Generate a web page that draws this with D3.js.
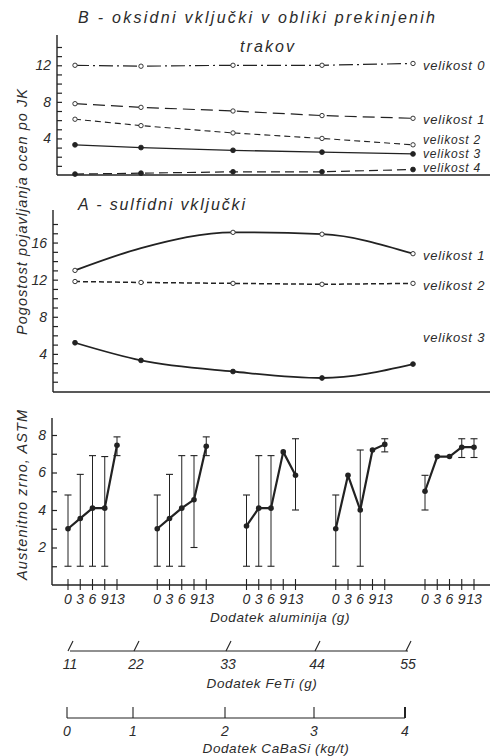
<!DOCTYPE html>
<html lang="sl">
<head>
<meta charset="utf-8">
<title>Vključki in austenitno zrno</title>
<style>
  body { margin: 0; background: #fff; }
  svg text { font-family: "Liberation Sans", "DejaVu Sans", sans-serif; font-style: italic; fill: #2b2b2b; }
</style>
</head>
<body>
<div id="chart"></div>
<script src="https://cdn.jsdelivr.net/npm/d3@7"></script>
<script>

// ---- data ----
var groups = [0, 1, 2, 3, 4];
var feTiTicks = [11, 22, 33, 44, 55];
var caBaSiTicks = [0, 1, 2, 3, 4];
var alLabels = ["0", "3", "6", "9", "13"];

// B - oksidni vkljucki (pogostost po JK)
var bVel0 = [12.0, 11.9, 12.0, 12.0, 12.2];
var bVel1 = [7.8, 7.4, 7.0, 6.5, 6.2];
var bVel2 = [6.1, 5.4, 4.6, 4.0, 3.3];
var bVel3 = [3.3, 3.0, 2.7, 2.5, 2.3];
var bVel4 = [0.1, 0.2, 0.35, 0.35, 0.6];

// A - sulfidni vkljucki
var aVel1 = [13.0, 15.4, 17.1, 16.9, 14.8];
var aVel2 = [11.8, 11.7, 11.6, 11.5, 11.6];
var aVel3 = [5.2, 3.3, 2.1, 1.4, 2.9];

// austenitno zrno ASTM, one row per group, one value per Al addition
var grainMean = [
  [3.0, 3.55, 4.1, 4.1, 7.45],
  [3.0, 3.55, 4.1, 4.55, 7.4],
  [3.15, 4.1, 4.1, 7.1, 5.85],
  [3.0, 5.85, 4.0, 7.2, 7.5],
  [5.0, 6.85, 6.85, 7.35, 7.35]
];
var grainLow = [
  [1.0, 1.0, 1.0, 1.0, 6.9],
  [1.0, 1.0, 1.0, 2.0, 6.9],
  [1.0, 1.0, 1.0, null, 4.0],
  [1.0, null, 1.0, null, 7.1],
  [4.0, null, null, 6.8, 6.8]
];
var grainHigh = [
  [4.8, 5.9, 6.9, 6.85, 7.9],
  [4.8, 5.9, 6.9, 6.9, 7.9],
  [4.8, 6.9, 6.9, null, 7.8],
  [4.8, null, 7.2, null, 7.8],
  [5.85, null, null, 7.8, 7.8]
];

// ---- setup ----
var W = 495, H = 756;
var svg = d3.select("#chart").append("svg")
  .attr("width", W).attr("height", H);

var ink = "#222";

// experiment positions are not evenly drawn in the original, polylinear scale
var xg = d3.scaleLinear().domain(groups).range([75, 141, 233, 322, 413]);

function yAxisInward(scale, x, top, bottom, fmt) {
  var g = svg.append("g").attr("transform", "translate(" + x + ",0)");
  g.call(d3.axisLeft(scale)
    .tickValues(d3.range(scale.domain()[0] + 1, scale.domain()[1] + 1))
    .tickSizeInner(-5).tickSizeOuter(0).tickPadding(6)
    .tickFormat(fmt));
  g.select(".domain").remove();
  g.selectAll("line").attr("stroke", ink).attr("stroke-width", 1.2);
  g.selectAll("text").attr("font-size", 14).style("font-family", '"Liberation Sans", sans-serif').style("font-style", "italic").attr("fill", "#2b2b2b");
  svg.append("line").attr("x1", x).attr("x2", x).attr("y1", top).attr("y2", bottom)
    .attr("stroke", ink).attr("stroke-width", 1.4);
}

function drawSeries(yScale, vals, style) {
  var pts = vals.map(function (v, i) { return [xg(i), yScale(v)]; });
  svg.append("path")
    .datum(pts)
    .attr("fill", "none")
    .attr("stroke", ink)
    .attr("stroke-width", style.width)
    .attr("stroke-dasharray", style.dash)
    .attr("d", d3.line().curve(style.curve || d3.curveLinear));
  var marked = pts.filter(function (d, i) { return !(style.skip && style.skip.indexOf(i) >= 0); });
  svg.append("g").selectAll("circle")
    .data(marked).enter()
    .append("circle")
    .attr("cx", function (d) { return d[0]; })
    .attr("cy", function (d) { return d[1]; })
    .attr("r", style.filled ? 2.4 : 2.2)
    .attr("fill", style.filled ? ink : "#fff")
    .attr("stroke", ink)
    .attr("stroke-width", 0.9);
}

function label(x, y, txt, size) {
  svg.append("text").attr("x", x).attr("y", y)
    .attr("font-size", size || 13)
    .attr("letter-spacing", 0.8)
    .text(txt);
}

// ---- panel B ----
var yB = d3.scaleLinear().domain([0, 14]).range([175, 47]);
yAxisInward(yB, 57, 35, 175, function (d) { return d % 4 === 0 ? d : ""; });
svg.append("line").attr("x1", 57).attr("x2", 490).attr("y1", 175).attr("y2", 175)
  .attr("stroke", ink).attr("stroke-width", 1.4);

drawSeries(yB, bVel0, { width: 1.2, dash: "14,4,2,4", filled: false });
drawSeries(yB, bVel1, { width: 1.2, dash: "12,6", filled: false });
drawSeries(yB, bVel2, { width: 1.1, dash: "6,4", filled: false });
drawSeries(yB, bVel3, { width: 1.3, dash: null, filled: true });
drawSeries(yB, bVel4, { width: 1.2, dash: "9,5", filled: true });

label(423, 70, "velikost 0");
label(423, 124, "velikost 1");
label(423, 144, "velikost 2", 12);
label(423, 158, "velikost 3", 12);
label(423, 172, "velikost 4", 12);

svg.append("text").attr("x", 78).attr("y", 23).attr("font-size", 16)
  .attr("textLength", 357).attr("lengthAdjust", "spacing")
  .text("B - oksidni vključki v obliki prekinjenih");
svg.append("text").attr("x", 240).attr("y", 52).attr("font-size", 16)
  .attr("textLength", 54).attr("lengthAdjust", "spacing")
  .text("trakov");

// ---- panel A ----
var yA = d3.scaleLinear().domain([0, 18]).range([391, 224]);
yAxisInward(yA, 53, 210, 392, function (d) { return d % 4 === 0 ? d : ""; });
svg.append("line").attr("x1", 53).attr("x2", 490).attr("y1", 392).attr("y2", 392)
  .attr("stroke", ink).attr("stroke-width", 1.4);

drawSeries(yA, aVel1, { width: 1.8, dash: null, filled: false, curve: d3.curveMonotoneX, skip: [1] });
drawSeries(yA, aVel2, { width: 1.5, dash: "5,3", filled: false });
drawSeries(yA, aVel3, { width: 1.8, dash: null, filled: true, curve: d3.curveMonotoneX });

label(423, 260, "velikost 1");
label(423, 290, "velikost 2");
label(423, 342, "velikost 3");

svg.append("text").attr("x", 78).attr("y", 210).attr("font-size", 16)
  .attr("textLength", 167).attr("lengthAdjust", "spacing")
  .text("A - sulfidni vključki");

svg.append("text")
  .attr("transform", "translate(27,212) rotate(-90)")
  .attr("text-anchor", "middle")
  .attr("font-size", 14.5)
  .attr("textLength", 246).attr("lengthAdjust", "spacing")
  .text("Pogostost pojavljanja ocen po JK");

// ---- austenite grain panel ----
var yG = d3.scaleLinear().domain([0, 8]).range([585, 435]);
var groupX = d3.scalePoint().domain(groups).range([68, 425]);
var alX = d3.scalePoint().domain(d3.range(alLabels.length)).range([0, 49]);

yAxisInward(yG, 52, 418, 585, function (d) { return d % 2 === 0 ? d : ""; });
svg.append("line").attr("x1", 52).attr("x2", 490).attr("y1", 585).attr("y2", 585)
  .attr("stroke", ink).attr("stroke-width", 1.4);

groups.forEach(function (g) {
  var px = function (i) { return groupX(g) + alX(i); };

  // ticks and Al labels
  alLabels.forEach(function (t, i) {
    svg.append("line").attr("x1", px(i)).attr("x2", px(i))
      .attr("y1", 579).attr("y2", 590)
      .attr("stroke", ink).attr("stroke-width", 1.1);
    svg.append("text").attr("x", px(i)).attr("y", 604)
      .attr("text-anchor", "middle").attr("font-size", 14)
      .text(t);
  });

  // error bars
  grainMean[g].forEach(function (m, i) {
    var lo = grainLow[g][i], hi = grainHigh[g][i];
    if (lo === null) return;
    var x = px(i);
    svg.append("line").attr("x1", x).attr("x2", x)
      .attr("y1", yG(lo)).attr("y2", yG(hi))
      .attr("stroke", ink).attr("stroke-width", 1);
    [lo, hi].forEach(function (v) {
      svg.append("line").attr("x1", x - 3.5).attr("x2", x + 3.5)
        .attr("y1", yG(v)).attr("y2", yG(v))
        .attr("stroke", ink).attr("stroke-width", 1.1);
    });
  });

  var pts = grainMean[g].map(function (m, i) { return [px(i), yG(m)]; });
  svg.append("path").datum(pts)
    .attr("fill", "none").attr("stroke", ink).attr("stroke-width", 2.2)
    .attr("stroke-linejoin", "round")
    .attr("d", d3.line());
  svg.append("g").selectAll("circle")
    .data(pts).enter()
    .append("circle")
    .attr("cx", function (d) { return d[0]; })
    .attr("cy", function (d) { return d[1]; })
    .attr("r", 2.8).attr("fill", ink);
});

svg.append("text")
  .attr("transform", "translate(27,495) rotate(-90)")
  .attr("text-anchor", "middle")
  .attr("font-size", 14.5)
  .attr("textLength", 170).attr("lengthAdjust", "spacing")
  .text("Austenitno zrno, ASTM");

svg.append("text").attr("x", 280).attr("y", 622).attr("text-anchor", "middle")
  .attr("font-size", 13.5).attr("letter-spacing", 0.6).text("Dodatek aluminija (g)");

// ---- FeTi axis ----
var xFeTi = d3.scaleLinear().domain(feTiTicks).range(groups.map(function (g) { return xg(g) - 5; }));
svg.append("line").attr("x1", xFeTi(11)).attr("x2", xFeTi(55)).attr("y1", 651).attr("y2", 651)
  .attr("stroke", ink).attr("stroke-width", 1.2);
feTiTicks.forEach(function (t) {
  svg.append("line").attr("x1", xFeTi(t) - 2).attr("x2", xFeTi(t) + 3)
    .attr("y1", 651).attr("y2", 641)
    .attr("stroke", ink).attr("stroke-width", 1.1);
  svg.append("text").attr("x", xFeTi(t)).attr("y", 669)
    .attr("text-anchor", "middle").attr("font-size", 14).text(t);
});
svg.append("text").attr("x", 262).attr("y", 688).attr("text-anchor", "middle")
  .attr("font-size", 13.5).attr("letter-spacing", 0.6).text("Dodatek FeTi (g)");

// ---- CaBaSi axis ----
var xCa = d3.scaleLinear().domain(caBaSiTicks).range(groups.map(function (g) { return xg(g) - 8; }));
svg.append("line").attr("x1", xCa(0)).attr("x2", xCa(4)).attr("y1", 718).attr("y2", 718)
  .attr("stroke", ink).attr("stroke-width", 1.2);
caBaSiTicks.forEach(function (t) {
  svg.append("line").attr("x1", xCa(t)).attr("x2", xCa(t))
    .attr("y1", 707).attr("y2", 718)
    .attr("stroke", ink).attr("stroke-width", t === 4 ? 2 : 1.1);
  svg.append("text").attr("x", xCa(t)).attr("y", 736)
    .attr("text-anchor", "middle").attr("font-size", 14).text(t);
});
svg.append("text").attr("x", 276).attr("y", 753).attr("text-anchor", "middle")
  .attr("font-size", 13.5).attr("letter-spacing", 0.6).text("Dodatek CaBaSi (kg/t)");

</script>
</body>
</html>
